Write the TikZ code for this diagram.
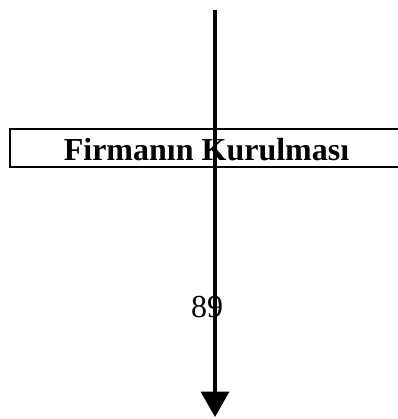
\documentclass[tikz,border=0pt]{standalone}
\usepackage{fontspec}
\setmainfont{Liberation Serif}
\usetikzlibrary{arrows.meta}
\begin{document}
\begin{tikzpicture}[x=0.75pt,y=-0.75pt,
  titlebox/.style={draw=black,line width=1.5pt},
  flowline/.style={line width=2.3pt,-{Triangle[width=21pt,length=19pt]}},
  label/.style={inner sep=0pt,anchor=base,font=\fontsize{24}{28}\selectfont}]
  \useasboundingbox (0,0) rectangle (398,419);
  % title frame, running off the right edge
  \begin{scope}
    \clip (0,0) rectangle (398,419);
    \draw[titlebox] (10,129) rectangle (405,167);
  \end{scope}
  \node[label,font=\fontsize{24}{28}\selectfont\bfseries] (title) at (206.5,160) {Firmanın Kurulması};
  \node[label] (page) at (207,317) {89};
  % vertical flow arrow
  \coordinate (top) at (215,10);
  \coordinate (bottom) at (215,417);
  \draw[flowline] (top) -- (bottom);
\end{tikzpicture}
\end{document}
